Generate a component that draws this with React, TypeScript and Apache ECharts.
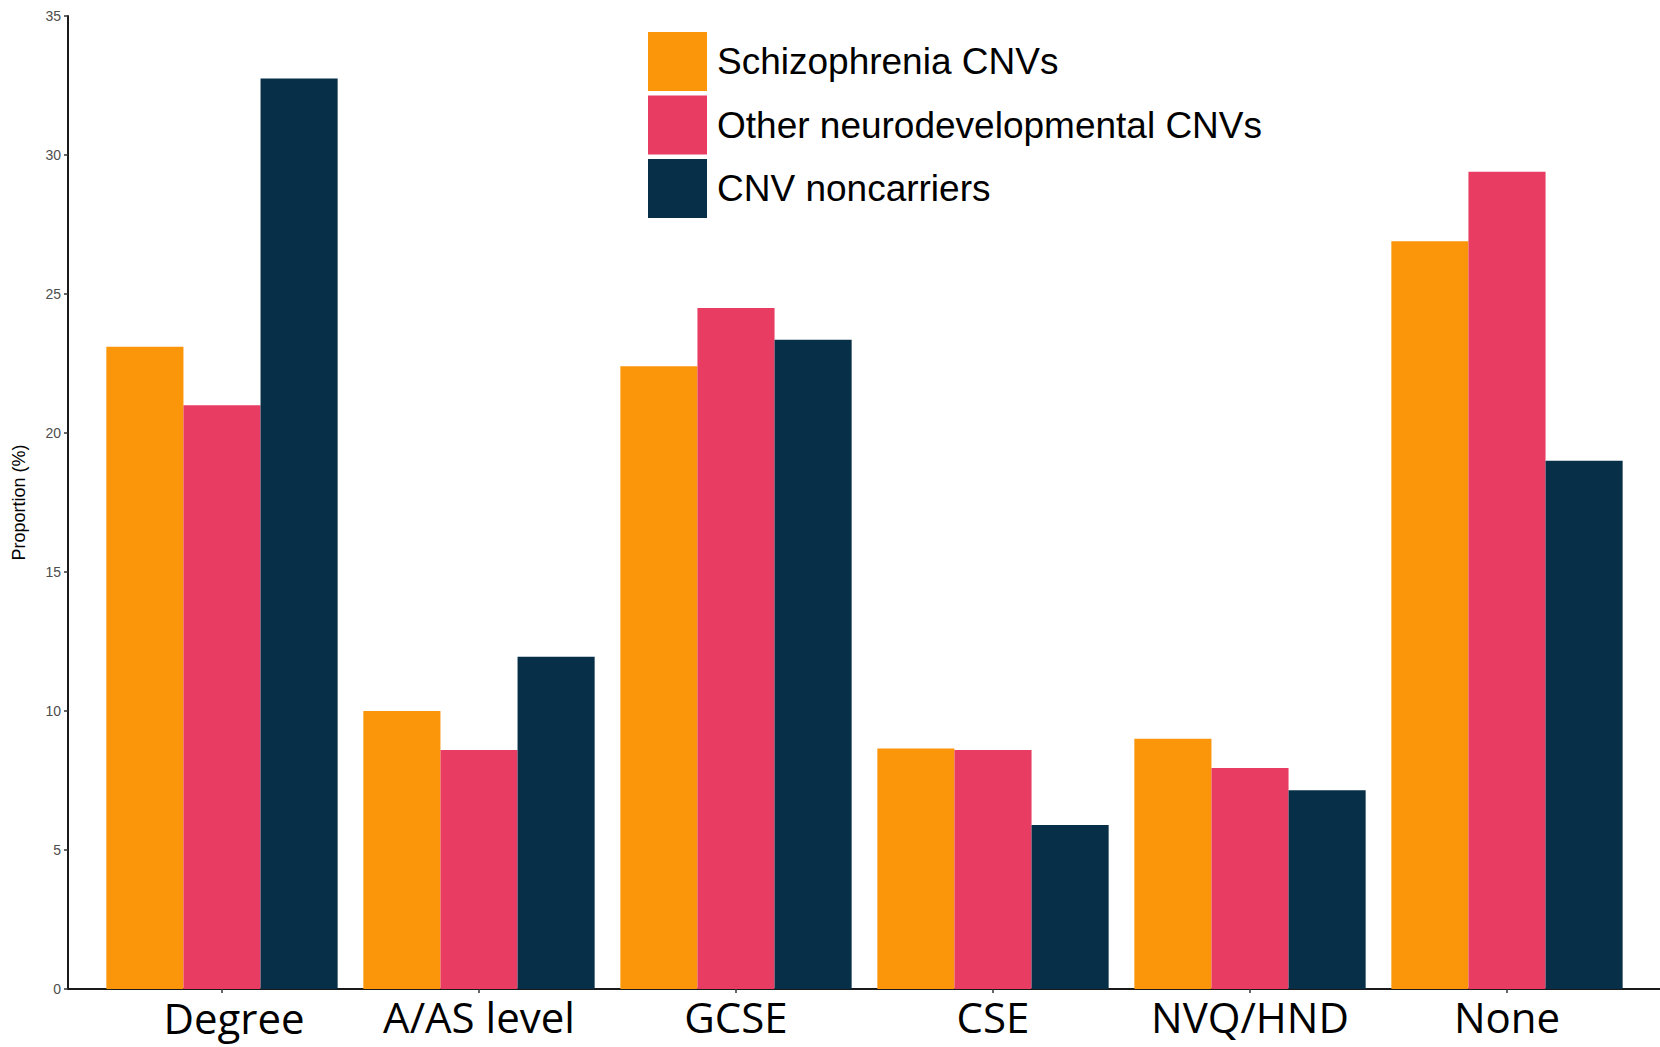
import React, { useEffect, useRef } from "react";
import * as echarts from "echarts";

const categories = ["Degree", "A/AS level", "GCSE", "CSE", "NVQ/HND", "None"];
const seriesNames = ["Schizophrenia CNVs", "Other neurodevelopmental CNVs", "CNV noncarriers"];
const schizophrenia = [23.1, 10.0, 22.4, 8.65, 9.0, 26.9];
const otherNeuro = [21.0, 8.6, 24.5, 8.6, 7.95, 29.4];
const noncarriers = [32.75, 11.95, 23.35, 5.9, 7.15, 19.0];
const colors = ["#FB960A", "#E83C63", "#072F48"];
const yTicks = [0, 5, 10, 15, 20, 25, 30, 35];

export default function App() {
  const ref = useRef<HTMLDivElement>(null);
  useEffect(() => {
    if (!ref.current) return;
    const chart = echarts.init(ref.current, undefined, { renderer: "svg" });
    const values = [schizophrenia, otherNeuro, noncarriers];
    chart.setOption({
      animation: false,
      backgroundColor: "#ffffff",
      legend: {
        orient: "vertical",
        left: 648,
        top: 32,
        padding: 0,
        itemWidth: 59,
        itemHeight: 59,
        itemGap: 4.5,
        icon: "rect",
        data: seriesNames,
        textStyle: {
          fontFamily: "Liberation Sans, Arial, sans-serif",
          fontSize: 37,
          color: "#000000",
          padding: [0, 0, 0, 5],
        },
      },
      grid: [
        { left: 93.5, right: 24.5, top: 16, bottom: 58, containLabel: false },
        { left: 68, right: 0, top: 16, bottom: 58, containLabel: false },
      ],
      xAxis: [
        {
          type: "category",
          gridIndex: 0,
          data: categories.map((c, i) =>
            i === 0 ? { value: c, textStyle: { padding: [1, 0, 0, 24] } } : c
          ),
          boundaryGap: true,
          axisLine: { show: false },
          axisTick: { show: true, alignWithLabel: true, length: 4, lineStyle: { color: "#333333", width: 1.5 } },
          axisLabel: {
            fontFamily: "Open Sans, Lato, sans-serif",
            fontSize: 42,
            color: "#000000",
            margin: 6,
            interval: 0,
          },
        },
        {
          type: "value",
          gridIndex: 1,
          min: 0,
          max: 1,
          axisLine: { show: true, onZero: false, lineStyle: { color: "#1a1a1a", width: 2 } },
          axisTick: { show: false },
          axisLabel: { show: false },
          splitLine: { show: false },
        },
      ],
      yAxis: [
        {
          type: "value",
          gridIndex: 0,
          min: 0,
          max: 35,
          interval: 5,
          offset: 25.5,
          name: "Proportion (%)",
          nameLocation: "middle",
          nameGap: 40,
          nameTextStyle: {
            fontFamily: "Liberation Sans, Arial, sans-serif",
            fontSize: 18,
            color: "#000000",
          },
          axisLine: { show: true, lineStyle: { color: "#1a1a1a", width: 2 } },
          axisTick: { show: true, length: 4, lineStyle: { color: "#333333", width: 1.5 } },
          axisLabel: {
            fontFamily: "Liberation Sans, Arial, sans-serif",
            fontSize: 14,
            color: "#4D4D4D",
            margin: 7,
            formatter: (v: number) => (yTicks.includes(v) ? String(v) : ""),
          },
          splitLine: { show: false },
        },
        {
          type: "value",
          gridIndex: 1,
          show: false,
          min: 0,
          max: 35,
        },
      ],
      series: seriesNames.map((name, i) => ({
        name,
        type: "bar",
        xAxisIndex: 0,
        yAxisIndex: 0,
        data: values[i],
        barGap: "0%",
        barCategoryGap: "10%",
        itemStyle: { color: colors[i] },
      })),
    });
    return () => chart.dispose();
  }, []);
  return (
    <div
      ref={ref}
      style={{ position: "absolute", left: 0, top: 0, width: 1660, height: 1047 }}
    />
  );
}
